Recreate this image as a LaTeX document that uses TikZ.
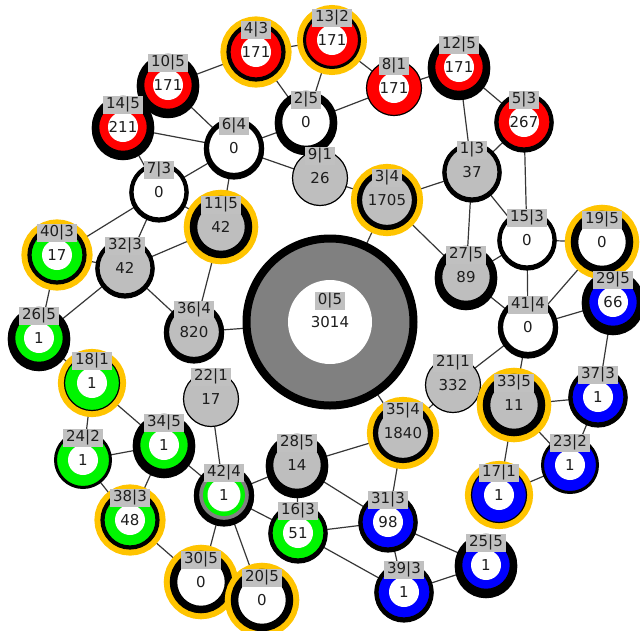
\documentclass[tikz,border=0pt]{standalone}
\usepackage{fontspec}
\setmainfont{DejaVu Sans}
\usetikzlibrary{backgrounds}
\definecolor{inktext}{RGB}{30,30,30}
\definecolor{linkgrey}{RGB}{55,55,55}
\definecolor{tagfill}{RGB}{192,192,192}
\definecolor{stonefill}{RGB}{190,190,190}
\definecolor{ringgrey}{RGB}{128,128,128}
\definecolor{ringred}{RGB}{255,0,0}
\definecolor{ringgreen}{RGB}{0,245,0}
\definecolor{ringblue}{RGB}{0,0,255}
\definecolor{halogold}{RGB}{255,196,0}

\begin{document}
\begin{tikzpicture}[
    x=1pt,
    y=-1pt,
    font=\fontsize{15}{17}\selectfont,
    vertex/.style={
      circle,
      draw=black,
      text=inktext,
      minimum size=55pt,
      inner sep=0pt,
      outer sep=0pt
    },
    hub/.style={
      vertex,
      line width=8pt,
      fill=ringgrey,
      minimum size=167pt,
      path picture={\fill[white] (path picture bounding box.center) circle (42pt);}
    },
    % ring weight by level; the heavier rings sag a little
    lv1/.style={line width=1.2pt},
    lv2/.style={line width=3pt},
    lv3/.style={line width=4.2pt,
      preaction={draw=black,transform canvas={yshift=-1pt}}},
    lv4/.style={line width=5.2pt,
      preaction={draw=black,transform canvas={yshift=-1.5pt}}},
    lv5/.style={line width=7.5pt,
      preaction={draw=black,transform canvas={yshift=-2pt}}},
    halo/.style={preaction={draw=halogold,line width=\pgflinewidth+6pt}},
    hole/.style={
      path picture={\fill[white] (path picture bounding box.center) circle (15pt);}
    },
    blank/.style={fill=white},
    stone/.style={fill=stonefill},
    redring/.style={fill=ringred,hole},
    greenring/.style={fill=ringgreen,hole},
    bluering/.style={fill=ringblue,hole},
    mixring/.style={
      fill=ringgrey,
      path picture={
        \fill[ringgreen] (path picture bounding box.center) circle (21pt);
        \fill[white] (path picture bounding box.center) circle (16.5pt);
      }
    },
    every label/.style={
      fill=tagfill,
      text=inktext,
      inner xsep=3pt,
      inner ysep=1.5pt,
      yshift=-14.5pt
    },
    link/.style={draw=linkgrey,line width=1.2pt}
]
\useasboundingbox (0,0) rectangle (640,630);

% centre
\node[hub,label={[yshift=-57pt]90:0|5}] (n0) at (330,322) {3014};

% red group (top)
\node[vertex,lv3,halo,redring,label=90:4|3] (n4) at (256,52) {171};
\node[vertex,lv2,halo,redring,label=90:13|2] (n13) at (332,40) {171};
\node[vertex,lv1,redring,label=90:8|1] (n8) at (394,88) {171};
\node[vertex,lv5,redring,label=90:12|5] (n12) at (459,67) {171};
\node[vertex,lv3,redring,label=90:5|3] (n5) at (524,122) {267};
\node[vertex,lv5,redring,label=90:10|5] (n10) at (168,85) {171};
\node[vertex,lv5,redring,label=90:14|5] (n14) at (123,127) {211};

% plain and grey nodes
\node[vertex,lv5,blank,label=90:2|5] (n2) at (306,122) {0};
\node[vertex,lv4,blank,label=90:6|4] (n6) at (234,148) {0};
\node[vertex,lv3,blank,label=90:7|3] (n7) at (159,192) {0};
\node[vertex,lv1,stone,label=90:9|1] (n9) at (320,178) {26};
\node[vertex,lv3,stone,label=90:1|3] (n1) at (472,172) {37};
\node[vertex,lv4,halo,stone,label=90:3|4] (n3) at (387,200) {1705};
\node[vertex,lv5,halo,stone,label=90:11|5] (n11) at (221,227) {42};
\node[vertex,lv3,stone,label=90:32|3] (n32) at (125,268) {42};
\node[vertex,lv4,stone,label=90:36|4] (n36) at (194,332) {820};
\node[vertex,lv1,stone,label=90:22|1] (n22) at (211,399) {17};
\node[vertex,lv3,blank,label=90:15|3] (n15) at (527,240) {0};
\node[vertex,lv5,halo,blank,label=90:19|5] (n19) at (602,242) {0};
\node[vertex,lv5,stone,label=90:27|5] (n27) at (466,277) {89};
\node[vertex,lv4,blank,label=90:41|4] (n41) at (528,327) {0};
\node[vertex,lv1,stone,label=90:21|1] (n21) at (453,385) {332};
\node[vertex,lv5,halo,stone,label=90:33|5] (n33) at (514,405) {11};
\node[vertex,lv4,halo,stone,label=90:35|4] (n35) at (403,433) {1840};
\node[vertex,lv5,stone,label=90:28|5] (n28) at (297,465) {14};
\node[vertex,lv5,halo,blank,label=90:30|5] (n30) at (201,582) {0};
\node[vertex,lv5,halo,blank,label=90:20|5] (n20) at (262,600) {0};

% green group (left)
\node[vertex,lv3,halo,greenring,label=90:40|3] (n40) at (57,255) {17};
\node[vertex,lv5,greenring,label=90:26|5] (n26) at (39,338) {1};
\node[vertex,lv1,halo,greenring,label=90:18|1] (n18) at (92,383) {1};
\node[vertex,lv5,greenring,label=90:34|5] (n34) at (164,445) {1};
\node[vertex,lv2,greenring,label=90:24|2] (n24) at (83,460) {1};
\node[vertex,lv3,halo,greenring,label=90:38|3] (n38) at (130,520) {48};
\node[vertex,lv4,mixring,label=90:42|4] (n42) at (224,495) {1};
\node[vertex,lv3,greenring,label=90:16|3] (n16) at (298,533) {51};

% blue group (right)
\node[vertex,lv5,bluering,label=90:29|5] (n29) at (613,302) {66};
\node[vertex,lv3,bluering,label=90:37|3] (n37) at (598,397) {1};
\node[vertex,lv2,bluering,label=90:23|2] (n23) at (570,465) {1};
\node[vertex,lv1,halo,bluering,label=90:17|1] (n17) at (499,495) {1};
\node[vertex,lv3,bluering,label=90:31|3] (n31) at (388,522) {98};
\node[vertex,lv5,bluering,label=90:25|5] (n25) at (486,565) {1};
\node[vertex,lv3,bluering,label=90:39|3] (n39) at (404,592) {1};

\begin{pgfonlayer}{background}
\foreach \a/\b in {
  n4/n10, n4/n13, n4/n2, n13/n2, n13/n8, n2/n8, n2/n6, n8/n12,
  n12/n5, n12/n1, n5/n1, n5/n15, n1/n3, n1/n27, n1/n15, n3/n9,
  n3/n0, n3/n27, n15/n19, n15/n27, n15/n41, n19/n41, n27/n41,
  n29/n41, n29/n37, n41/n21, n41/n33, n33/n37, n33/n23, n33/n17,
  n37/n23, n23/n17, n21/n35, n0/n35, n35/n28, n35/n31, n31/n28,
  n31/n16, n31/n25, n31/n39, n39/n25, n39/n16, n16/n28, n16/n42,
  n28/n42, n42/n22, n42/n34, n42/n30, n42/n20, n38/n30, n38/n34,
  n38/n24, n24/n34, n24/n18, n18/n34, n18/n26, n26/n40, n26/n32,
  n40/n32, n40/n7, n32/n7, n32/n11, n32/n36, n36/n11, n36/n0,
  n7/n6, n7/n14, n7/n11, n6/n14, n6/n10, n6/n9, n6/n11} {
  \draw[link] (\a) -- (\b);
}
\end{pgfonlayer}

\end{tikzpicture}
\end{document}
